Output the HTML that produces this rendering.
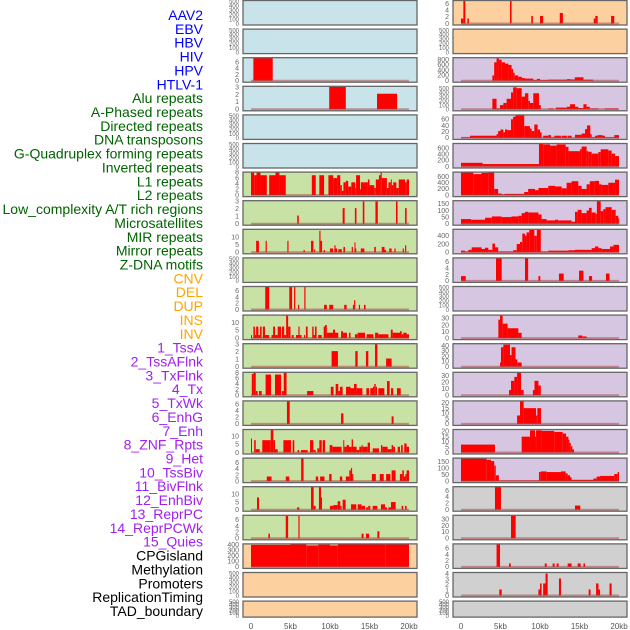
<!DOCTYPE html>
<html><head><meta charset="utf-8"><style>
html,body{margin:0;padding:0;background:#fff;width:630px;height:630px;overflow:hidden}
svg{display:block}
</style></head><body>
<svg id="chart" width="630" height="630" xmlns="http://www.w3.org/2000/svg" font-family="Liberation Sans, sans-serif"></svg>
<script>
// ---------- data ----------
const labels = ["AAV2","EBV","HBV","HIV","HPV","HTLV-1","Alu repeats","A-Phased repeats","Directed repeats","DNA transposons","G-Quadruplex forming repeats","Inverted repeats","L1 repeats","L2 repeats","Low_complexity A/T rich regions","Microsatellites","MIR repeats","Mirror repeats","Z-DNA motifs","CNV","DEL","DUP","INS","INV","1_TssA","2_TssAFlnk","3_TxFlnk","4_Tx","5_TxWk","6_EnhG","7_Enh","8_ZNF_Rpts","9_Het","10_TssBiv","11_BivFlnk","12_EnhBiv","13_ReprPC","14_ReprPCWk","15_Quies","CPGisland","Methylation","Promoters","ReplicationTiming","TAD_boundary"];
const labelGroups = ["v","v","v","v","v","v","r","r","r","r","r","r","r","r","r","r","r","r","r","s","s","s","s","s","c","c","c","c","c","c","c","c","c","c","c","c","c","c","c","k","k","k","k","k"];
const xTicks = [0,5,10,15,20];
const xTickLabels = ["0","5kb","10kb","15kb","20kb"];

const L2 = [[0.3,2.75,7.4]];
const L3 = [[9.9,12.0,3.05],[15.95,18.5,2.1]];
const L6 = [[0,0.4,8],[0.4,0.7,7],[0.7,1.2,8],[1.2,2.0,7],[2.3,3.1,7],[3.1,3.6,8],[3.6,4.4,7],[7.7,8.2,7],[8.65,9.25,7],[9.8,10.4,7],[10.4,10.9,6],[10.9,11.3,7],[11.3,11.5,3.5],[11.5,11.7,1.5],[11.7,12.0,4.5],[12.0,12.3,5],[12.3,12.7,3],[12.7,13.2,4.5],[13.2,13.3,2.5],[13.3,13.8,7],[13.8,13.9,2],[13.9,14.8,4.5],[14.8,15.0,5.5],[15.0,15.6,3.5],[15.6,15.8,2.5],[15.8,16.2,5.5],[16.2,16.4,7],[16.4,16.55,8],[16.55,17.2,6],[17.2,17.4,2.5],[17.4,17.7,4.5],[17.7,17.8,5.5],[17.8,18.0,3.5],[18.0,18.4,4.5],[18.4,18.7,2.5],[18.7,19.5,5.5],[19.5,19.7,4.5],[19.7,20,5.5]];
const L7 = [[5.85,6.05,1.1],[11.6,11.85,2.1],[13.15,13.35,2.1],[14.15,14.35,3],[15.75,16.05,3],[18.35,18.55,3],[19.5,19.7,2.1]];
const L8 = [[0.65,1.0,7.5],[1.85,2.0,7.5],[4.6,4.75,7.5],[6.65,6.8,1.5],[7.6,7.9,7.5],[8.0,8.1,2],[8.65,8.8,14],[8.8,9.0,7.5],[9.2,9.35,1.5],[10.0,10.4,2.5],[10.55,10.7,4.5],[10.7,10.9,2.5],[11.05,11.5,2],[11.7,11.9,3.5],[12.75,12.9,3.5],[13.1,13.2,6.5],[13.2,13.3,2.5],[13.9,14.35,2.5],[15.6,15.8,3.5],[16.55,16.9,3.5],[16.9,17.1,1.5],[17.5,17.8,2.5],[18.15,18.3,2.5],[19.2,19.35,2.5],[19.5,19.65,4.5]];
const L10 = [[1.8,2.3,7.4],[4.85,5.2,7.4],[5.45,5.6,7.4],[5.95,6.1,1.5],[6.75,6.9,7.4],[9.25,9.6,1.5],[9.9,10.4,1.5],[11.8,12.1,1.5],[12.9,13.05,1.5],[13.05,13.2,3],[13.65,13.8,1.5],[14.3,14.5,1.5]];
const L11 = [[0,0.1,2],[0.3,0.5,7.5],[0.5,0.65,2],[0.65,0.93,7.5],[0.93,1.15,2],[1.15,1.35,7.5],[1.5,1.77,7.5],[1.77,2.3,2],[2.6,2.8,2],[2.8,3.04,7.5],[3.04,3.38,2],[3.38,3.8,7.5],[3.9,4.2,7.5],[4.2,4.45,2],[4.45,4.7,14.8],[4.7,5.0,7.5],[5.15,5.4,2],[5.7,6.0,2],[6.0,6.15,7.5],[6.15,6.4,2],[6.7,6.85,2],[6.95,7.17,7.5],[7.75,7.93,7.5],[7.93,8.1,2],[8.1,8.3,7.5],[8.5,8.95,2],[9.2,9.37,7.5],[9.37,9.6,8.5],[9.6,10.38,3.5],[10.38,10.63,5.5],[10.63,11.05,3.5],[11.4,11.65,4.5],[11.65,12.15,3.5],[12.4,12.6,3.5],[13.16,13.5,2.5],[13.5,14.43,3.5],[14.64,15.5,2.5],[15.7,16.1,3.5],[16.1,17.4,2.5],[17.7,17.93,5.5],[17.93,18.86,3.5],[18.86,19.07,4.5],[19.07,19.28,2.5],[19.28,19.7,3.5],[19.7,20,2.5]];
const L12 = [[10.2,11.0,2.1],[13.2,13.5,2.1],[14.55,14.85,2.1],[15.7,16.0,3.05],[17.1,17.8,1.1]];
const L13 = [[0.1,0.3,7.5],[0.3,0.6,8],[0.6,0.84,1.5],[1.01,1.35,1.5],[1.85,2.53,7.3],[3.04,3.8,7.3],[3.9,4.15,1.5],[4.15,4.5,8],[7.1,7.9,1.5],[10.1,10.45,3],[10.72,11.05,4],[11.05,11.27,1.5],[11.27,11.6,3],[12.03,12.6,3],[12.6,13.04,2.5],[13.04,13.37,4],[13.37,14.1,2.5],[14.6,14.94,2.5],[15.1,15.44,2.5],[15.44,15.6,3],[15.6,15.78,4],[15.78,15.95,3],[16.12,16.88,2.5],[17.22,17.55,5],[17.72,18.0,2.5],[18.48,18.95,2.5]];
const L14 = [[4.55,4.9,7],[11.4,11.7,3.2],[17.8,18.05,2.3]];
const L15 = [[0,0.1,8.5],[0.4,0.6,7.5],[0.6,1.1,2],[1.43,2.5,7.5],[2.5,2.83,13.8],[2.83,3.04,7.5],[3.04,3.38,2],[4.1,5.06,7.5],[5.27,5.48,7.5],[5.9,6.1,1.5],[6.33,7.17,1.5],[7.47,7.89,7.5],[7.89,8.18,1.5],[8.4,8.65,2.5],[8.65,8.95,7.5],[9.07,9.37,7.5],[9.96,10.3,4.5],[10.3,11.47,3.5],[11.68,11.8,7.5],[11.8,12.1,3.5],[12.1,12.4,4.5],[12.4,12.74,3.5],[12.74,12.91,8],[12.91,13.37,3.5],[13.37,13.71,1.5],[13.71,14.0,3.5],[14.0,14.14,4.5],[14.14,14.77,3.5],[14.77,15.06,6],[15.4,16.2,2.5],[16.45,16.62,4.5],[16.62,17.3,3.5],[17.3,17.8,2],[17.8,18.0,4.5],[18.0,18.23,3.5],[18.57,18.86,3.5],[18.99,19.2,4.5],[19.4,19.7,5.5],[19.7,20,3.5]];
const L16 = [[2.0,2.6,1.5],[4.4,4.85,1.5],[6.35,6.65,7.5],[8.2,8.5,1.5],[8.75,9.3,1.5],[9.9,10.2,2.3],[11.25,11.55,1.5],[12.0,12.45,1.5],[12.45,12.65,3.5],[12.65,12.8,4.3],[12.8,12.95,2.3],[15.3,15.8,2.3],[16.3,16.8,2.3],[17.1,17.65,2.3],[17.8,18.3,3.5],[18.85,19.15,2.3],[19.15,19.35,3.5],[19.35,19.55,1.5],[19.55,19.7,2.3],[19.7,20,3.5]];
const L17 = [[0.76,1.01,8],[5.82,6.12,1.5],[7.6,7.93,15],[7.93,8.18,2.5],[8.6,8.86,15],[8.86,8.99,8],[9.99,10.4,2.5],[10.4,10.97,3],[10.97,11.3,5.5],[11.3,11.47,2.5],[11.6,11.98,6.5],[12.66,13.33,3.5],[13.5,14.0,3.5],[14.0,14.43,2.5],[14.56,14.85,1.5],[14.85,15.1,2.5],[15.4,15.99,2.5],[16.45,16.96,3.5],[16.96,17.22,1.5],[17.38,17.72,1.5],[17.72,18.31,5],[19.07,19.28,2.5],[19.5,19.7,2.5]];
const L18 = [[2.2,2.4,1.5],[4.4,4.7,7.5],[6.0,6.15,7.5],[14.0,14.25,1.5],[14.55,14.95,1.5],[16.0,16.25,2.3]];
const L19 = [[0,5,400],[5,7,410],[7,8.5,390],[8.5,10,405],[10,11,390],[11,17,410],[17,20,410]];

const R0 = [[0,0.3,1.5],[0.3,0.55,7],[0.8,1.0,1.5],[6.2,6.4,7],[8.9,9.1,2.3],[10.0,10.4,2.3],[12.5,12.9,3.2],[16.8,17.0,1.5],[17.0,17.3,2.3],[19.0,19.4,2.3]];
const R2 = [[3.97,4.2,200],[4.2,4.5,700],[4.5,4.8,850],[4.8,5.15,800],[5.15,5.57,700],[5.57,6.0,650],[6.0,6.4,600],[6.4,6.6,450],[6.6,6.8,300],[6.8,7.25,200],[7.25,7.7,150],[7.7,8.1,100],[8.1,9.15,80],[9.15,9.6,30],[9.6,10.0,70],[10.0,11.05,30],[11.05,13.4,40],[13.4,13.8,60],[13.8,14.4,50],[14.4,15.5,130],[15.5,16.75,40]];
const R3 = [[3.97,4.5,250],[4.5,4.94,20],[4.94,5.36,100],[5.36,5.78,150],[5.78,6.33,250],[6.33,6.6,400],[6.6,7.05,520],[7.05,7.68,500],[7.68,8.1,300],[8.1,8.52,380],[8.52,8.73,200],[8.73,9.15,150],[9.15,9.87,380],[9.87,10.1,100],[11.05,11.7,20],[12.0,13.4,40],[13.4,13.8,60],[13.8,14.43,120],[14.43,14.85,60],[14.85,15.5,30],[15.5,15.9,120],[15.9,16.3,60],[16.3,17.4,20],[18.2,19.9,20]];
const R4 = [[0,1.14,2],[1.14,4.5,7],[4.5,4.7,12],[4.7,5.0,22],[5.0,5.36,27],[5.36,5.57,18],[5.57,5.9,27],[5.9,6.33,25],[6.33,6.6,60],[6.6,6.9,68],[6.9,7.34,73],[7.34,8.0,72],[8.0,8.73,38],[8.73,8.95,30],[8.95,9.28,22],[9.28,9.7,43],[9.7,10.0,27],[10.0,10.2,18],[10.4,11.05,7],[11.05,11.4,9],[11.4,11.8,2],[11.8,12.66,7],[12.74,13.4,7],[13.5,14.0,7],[14.43,15.27,10],[15.27,15.7,14],[15.7,15.95,28],[15.95,16.37,40],[16.37,16.54,12],[16.54,16.96,2],[16.96,17.3,7],[17.3,17.9,9],[17.9,18.23,7],[18.23,19.4,2],[19.4,20,9]];
const R5 = [[0,2.74,120],[2.74,9.87,80],[9.87,10.4,750],[10.4,11.27,720],[11.27,12.1,680],[12.1,13.25,720],[13.25,13.6,640],[13.6,15.06,500],[15.06,15.27,560],[15.27,15.9,650],[15.9,16.1,500],[16.1,16.54,480],[16.54,17.38,420],[17.38,17.68,470],[17.68,18.65,560],[18.65,19.07,520],[19.07,19.5,420],[19.5,20,340]];
const R6 = [[0,1.56,740],[1.56,2.6,680],[2.6,3.46,720],[3.46,4.2,740],[4.2,4.7,200],[4.7,5.15,50],[5.15,5.5,20],[5.5,8.0,40],[8.0,8.5,100],[8.5,9.37,200],[9.37,9.8,160],[9.8,11.05,230],[11.05,11.9,300],[11.9,12.74,280],[12.74,13.37,220],[13.37,14.0,400],[14.0,14.85,450],[14.85,15.27,300],[15.27,15.9,200],[15.9,16.3,350],[16.3,16.88,450],[16.88,17.47,460],[17.47,17.8,350],[17.8,18.65,330],[18.65,19.5,400],[19.5,20,500]];
const R7 = [[0,1.27,35],[1.27,3.04,30],[3.04,3.9,45],[3.9,5.15,55],[5.15,6.4,50],[6.4,7.26,55],[7.26,7.68,60],[7.68,8.1,80],[8.1,8.5,90],[8.5,9.8,85],[9.8,10.2,70],[10.2,10.84,35],[10.84,11.9,25],[11.9,12.3,30],[12.3,14.0,25],[14.0,14.43,15],[14.43,14.77,90],[14.77,15.27,105],[15.27,15.9,80],[15.9,16.2,100],[16.2,16.54,120],[16.54,17.05,85],[17.05,17.2,75],[17.2,17.68,170],[17.68,18.0,95],[18.0,18.3,110],[18.3,19.07,125],[19.07,19.58,105],[19.58,19.9,60],[19.9,20,40]];
const R8 = [[0,0.5,40],[0.5,0.93,20],[0.93,1.35,60],[1.35,2.6,120],[2.6,3.04,80],[3.04,3.46,110],[3.46,3.97,60],[3.97,4.3,210],[4.3,4.7,120],[4.7,6.6,20],[6.6,7.05,50],[7.05,7.47,200],[7.47,7.76,250],[7.76,8.1,450],[8.1,8.3,400],[8.3,8.65,480],[8.65,9.28,540],[9.28,9.6,400],[9.6,10.1,550],[10.1,11.05,20],[11.05,13.6,40],[13.6,14.43,50],[14.43,16.54,60],[16.54,16.96,100],[16.96,17.4,140],[17.4,17.8,100],[17.8,18.86,80],[18.86,19.3,140],[19.3,20,180]];
const R9 = [[0,0.6,1.5],[4.43,5.15,7.2],[8.1,8.5,7.2],[9.8,10.04,1.5],[12.4,13.0,2.3],[14.94,15.5,3.2],[16.2,16.6,1.5],[18.35,18.8,2.3]];
const R11 = [[4.73,4.94,28],[4.94,5.27,35],[5.27,5.9,22],[5.9,7.26,15],[7.26,7.68,8],[14.85,15.36,4],[15.36,15.9,2.5]];
const R12 = [[4.94,5.06,8],[5.06,5.36,37],[5.36,6.2,42],[6.2,6.4,22],[6.4,6.9,37],[6.9,7.13,14],[7.13,7.68,8]];
const R13 = [[6.08,6.33,8],[6.33,6.75,22],[6.75,7.1,28],[7.1,7.6,35],[7.6,7.93,8],[9.1,9.3,8],[9.3,9.8,22],[9.8,10.1,15]];
const R14 = [[7.1,7.47,8],[7.47,7.93,21.9],[7.93,9.5,15],[9.5,9.66,8],[9.66,10.13,15]];
const R15 = [[0,4.3,7.5],[7.68,8.73,15],[8.73,9.37,21],[9.37,9.5,15],[9.5,10.2,21],[10.2,11.8,20.5],[11.8,12.87,19.5],[12.87,13.3,18],[13.3,13.6,15],[13.6,13.7,12],[13.7,13.9,9],[13.9,14.1,6],[14.1,14.3,3]];
const R16 = [[0,3.25,175],[3.25,3.8,165],[3.8,4.2,155],[4.2,4.4,120],[4.4,4.8,45],[4.8,9.87,5],[9.87,10.1,70],[10.1,10.84,75],[10.84,12.66,70],[12.66,13.25,75],[13.25,13.5,60],[13.5,13.8,45],[13.8,14.0,30],[14.0,16.75,10],[16.75,17.17,20],[17.17,17.6,35],[17.6,19.4,40],[19.4,19.83,55],[19.83,20,70]];
const R17 = [[4.3,5.06,7.2],[14.43,15.1,1.3]];
const R18 = [[6.33,6.92,36]];
const R19 = [[4.5,4.94,7.4],[6.08,6.3,1.1],[10.6,10.85,1.1],[11.6,11.85,1.1],[12.1,12.36,1.1],[13.5,14.0,1.1],[14.77,15.15,1.1],[15.5,15.7,1.1]];
const R20 = [[4.85,5.15,1.1],[9.8,10.0,1.1],[10.0,10.2,2.2],[10.4,10.7,2.2],[10.7,10.97,4],[12.4,12.66,3.1],[16.16,16.4,1.1],[17.1,17.4,2.2],[17.4,17.6,1.1],[18.8,19.07,2.2]];

const emptyTicks = [0,100,200,300,400,500];
const leftTicks = [emptyTicks,emptyTicks,[0,2,4,6],[0,1,2,3],emptyTicks,emptyTicks,[0,2,4,6,8],[0,1,2,3],[0,5,10],emptyTicks,[0,2,4,6],[0,5,10],[0,1,2,3],[0,2,4,6,8],[0,2,4,6],[0,5,10],[0,2,4,6],[0,5,10],[0,2,4,6],[0,100,200,300,400],emptyTicks,emptyTicks];
const leftMax = [520,520,7.4,3.1,520,520,8.1,3.1,15,520,7.4,15,3.1,8.1,7,14,7.5,15,7.5,418,520,520];
const leftData = [null,null,L2,L3,null,null,L6,L7,L8,null,L10,L11,L12,L13,L14,L15,L16,L17,L18,L19,null,null];
const rightTicks = [[0,2,4,6],emptyTicks,[0,200,400,600,800],emptyTicks,[0,20,40,60],[0,200,400,600],[0,200,400,600],[0,50,100,150],[0,200,400],[0,2,4,6],emptyTicks,[0,10,20,30],[0,10,20,30,40],[0,10,20,30],[0,5,10,15,20],[0,5,10,15,20],[0,50,100,150],[0,2,4,6],[0,10,20,30],[0,2,4,6],[0,1,2,3,4],emptyTicks];
const rightMax = [7,520,875,545,74,750,745,174,555,7.2,520,35,43.7,35,21.9,21.8,178,7.2,36,7.4,4.2,520];
const rightData = [R0,null,R2,R3,R4,R5,R6,R7,R8,R9,null,R11,R12,R13,R14,R15,R16,R17,R18,R19,R20,null];

// ---------- drawing ----------
const NS = "http://www.w3.org/2000/svg";
const svg = document.getElementById("chart");
function mk(tag, attrs, parent){const e=document.createElementNS(NS,tag);for(const k in attrs)e.setAttribute(k,attrs[k]);(parent||svg).appendChild(e);return e;}

const groupColor = {v:"#0000ff", r:"#006400", s:"#ffa500", c:"#a020f0", k:"#000000"};
labels.forEach((t,i)=>{
  const el = mk("text",{x:203,y:15+13.86*i+5,"text-anchor":"end","font-size":"14",fill:groupColor[labelGroups[i]]});
  el.textContent = t;
  
  
});

const cols = [{x0:243,x1:417,k0:251,k1:409},{x0:453,x1:627,k0:461,k1:619}];
function leftBg(r){return r<6?"#c8e4ea":(r<19?"#c8e1a4":"#fdd09f");}
function rightBg(r){return r<2?"#fdd09f":(r<17?"#d6c6e2":"#d0d0d0");}

function drawPanel(ci, r, bg, ymax, ticks, data){
  const c = cols[ci];
  const top = 0.5 + 28.6*r;
  const h = r===21 ? 16 : 24.5;
  const bottom = top + h;
  const y0 = bottom - 1.5;
  const xs = kb => c.k0 + (c.k1-c.k0)*kb/20;
  const ys = v => y0 - (y0-top)*v/ymax;
  const g = mk("g",{});
  
  
  mk("rect",{x:c.x0,y:top,width:c.x1-c.x0,height:h,fill:bg},g);
  if(data){
    data.forEach(d=>{
      const x=xs(d[0]); const w=Math.max(1,xs(d[1])-x); const y=ys(Math.min(d[2],ymax));
      const b = mk("rect",{x:x,y:y,width:w,height:y0-y,fill:"#ff0000"},g);
      
      
    });
    mk("line",{x1:xs(0),x2:xs(20),y1:y0,y2:y0,stroke:"rgba(170,60,60,0.5)","stroke-width":2},g);
  }
  mk("rect",{x:c.x0,y:top,width:c.x1-c.x0,height:h,fill:"none",stroke:"#666","stroke-width":1.3},g);
  ticks.forEach(t=>{
    const tl = mk("text",{x:c.x0-4,y:ys(t)+2.3,"text-anchor":"end","font-size":ticks===emptyTicks?"6":"7",fill:"#666"},g);
    tl.textContent = t;
    
    
  });
}
for(let r=0;r<22;r++){
  drawPanel(0,r,leftBg(r),leftMax[r],leftTicks[r],leftData[r]);
  drawPanel(1,r,rightBg(r),rightMax[r],rightTicks[r],rightData[r]);
}
cols.forEach((c,ci)=>{
  xTicks.forEach((t,i)=>{
    const x = c.k0 + (c.k1-c.k0)*t/20;
    const tl = mk("text",{x:x,y:629,"text-anchor":"middle","font-size":"8",fill:"#555"});
    tl.textContent = xTickLabels[i];
    
    
  });
});
</script>
</body></html>
